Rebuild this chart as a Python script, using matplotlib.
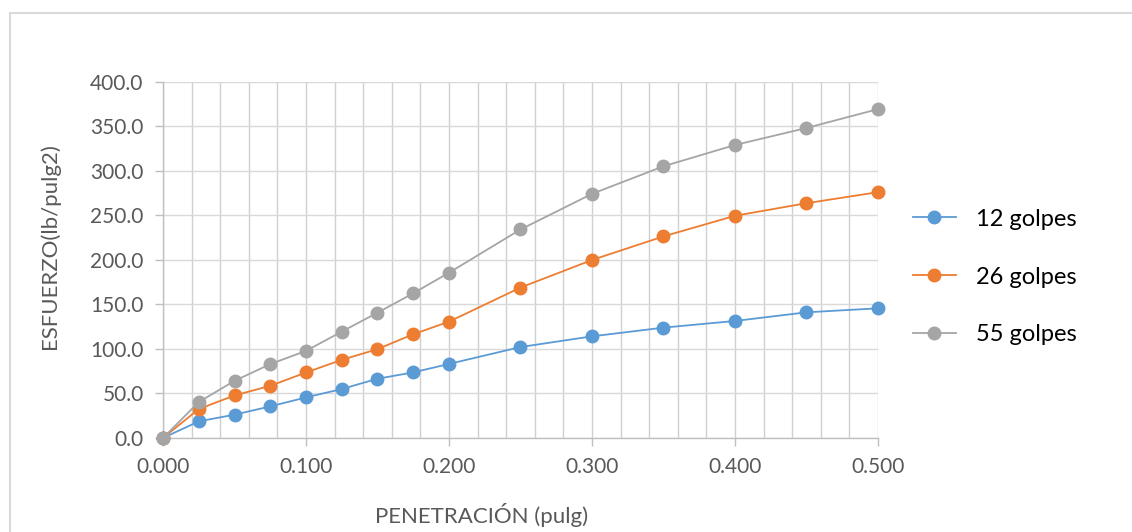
import numpy as np
import matplotlib.pyplot as plt
from matplotlib.patches import Rectangle
from matplotlib.ticker import MultipleLocator, FormatStrFormatter

plt.rcParams['font.family'] = ['Lato', 'DejaVu Sans']

# penetracion (pulg) y esfuerzo (lb/pulg2) para cada energia de compactacion
penetracion = [0.000, 0.025, 0.050, 0.075, 0.100, 0.125, 0.150, 0.175,
               0.200, 0.250, 0.300, 0.350, 0.400, 0.450, 0.500]
golpes_12 = [0.0, 18.7, 26.2, 35.5, 45.6, 55.0, 66.6, 73.7,
             83.2, 102.2, 114.2, 124.0, 131.5, 141.2, 145.7]
golpes_26 = [0.0, 32.5, 47.8, 58.6, 73.6, 87.8, 99.8, 116.6,
             130.7, 169.0, 200.0, 226.5, 249.7, 263.8, 276.2]
golpes_55 = [0.0, 40.4, 64.2, 83.0, 97.9, 119.5, 140.8, 162.6,
             185.7, 234.3, 274.3, 305.3, 329.2, 348.3, 369.5]

series = [('12 golpes', golpes_12, '#5B9BD5'),
          ('26 golpes', golpes_26, '#ED7D31'),
          ('55 golpes', golpes_55, '#A5A5A5')]

fig = plt.figure(figsize=(11.32, 5.32), dpi=100)
ax = fig.add_axes([0.144, 0.1767, 0.6316, 0.6692])

for nombre, y, color in series:
    ax.plot(penetracion, y, color=color, lw=1.3, marker='o', ms=9,
            mec=color, mfc=color, label=nombre, clip_on=False, zorder=3)

ax.set_xlim(0, 0.5)
ax.set_ylim(0, 400)
ax.xaxis.set_major_locator(MultipleLocator(0.1))
ax.xaxis.set_minor_locator(MultipleLocator(0.02))
ax.yaxis.set_major_locator(MultipleLocator(50))
ax.xaxis.set_major_formatter(FormatStrFormatter('%.3f'))
ax.yaxis.set_major_formatter(FormatStrFormatter('%.1f'))

ax.grid(True, which='both', axis='x', color='#D0D0D0', lw=1.0)
ax.grid(True, which='major', axis='y', color='#D9D9D9', lw=1.0)
ax.set_axisbelow(True)

for s in ['top', 'right']:
    ax.spines[s].set_visible(False)
for s in ['left', 'bottom']:
    ax.spines[s].set_color('#BFBFBF')
    ax.spines[s].set_linewidth(1.0)

ax.tick_params(axis='both', which='major', length=6, width=1.0,
               color='#BFBFBF', labelsize=15, labelcolor='#595959', pad=8)
ax.tick_params(axis='x', which='minor', length=0)

ax.set_xlabel('PENETRACIÓN (pulg)', fontsize=16, color='#595959')
ax.set_ylabel('ESFUERZO(lb/pulg2)', fontsize=16, color='#595959')
ax.xaxis.set_label_coords(0.446, -0.183)
ax.yaxis.set_label_coords(-0.144, 0.539)

ax.legend(loc='center left', bbox_to_anchor=(1.049, 0.452), frameon=False,
          fontsize=17, labelspacing=1.56, handlelength=1.8, handletextpad=0.85,
          borderpad=0, borderaxespad=0)

# borde del area del grafico
fig.patches.append(Rectangle((10 / 1132, -0.1), 2, 1 - 13 / 532 + 0.1,
                             transform=fig.transFigure, fill=False,
                             edgecolor='#D9D9D9', lw=1.5))

fig.savefig('out.png', dpi=100)
